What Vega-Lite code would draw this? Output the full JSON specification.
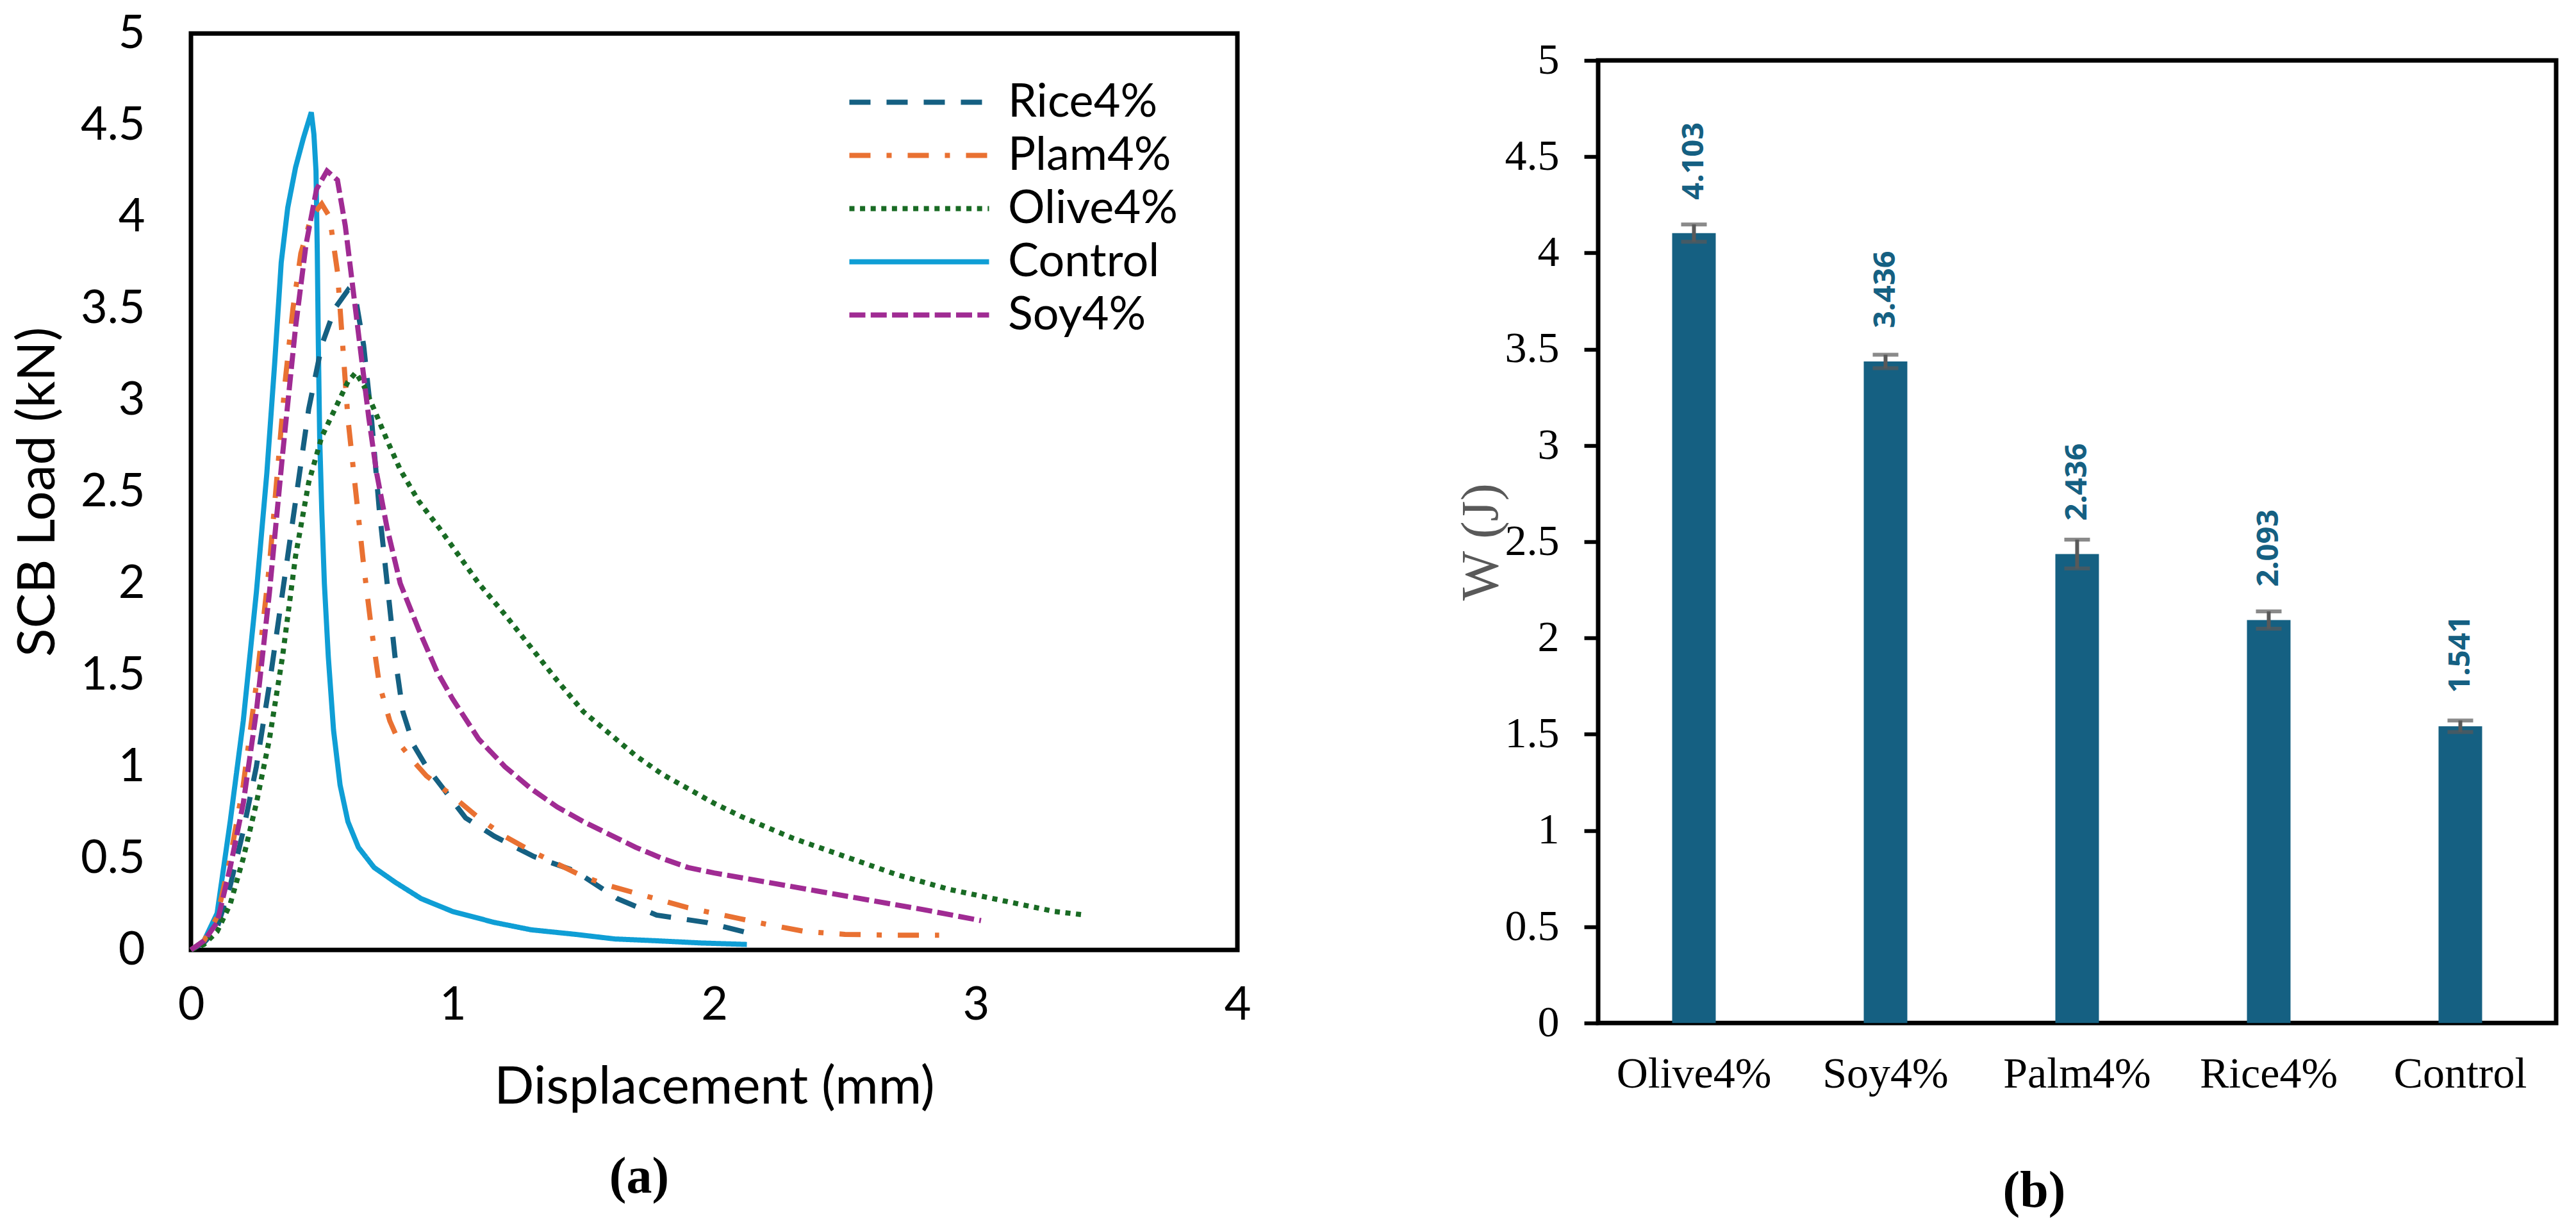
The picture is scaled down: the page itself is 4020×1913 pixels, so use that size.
{
  "$schema": "https://vega.github.io/schema/vega-lite/v6.json",
  "background": "white",
  "padding": {"left": 14, "top": 12, "right": 0, "bottom": 0},
  "spacing": 310,
  "center": {"row": true},
  "config": {
    "view": {"stroke": "black", "strokeWidth": 7},
    "axis": {"grid": false, "domain": false}
  },
  "hconcat": [
    {
      "width": 1633,
      "height": 1430,
      "title": {
        "text": "(a)",
        "subtitle": " ",
        "orient": "bottom",
        "anchor": "middle",
        "frame": "group",
        "dx": -117,
        "offset": 100,
        "font": "Liberation Serif",
        "fontSize": 80,
        "fontWeight": "bold",
        "color": "black",
        "baseline": "middle",
        "subtitleFontSize": 30,
        "subtitlePadding": 8
      },
      "data": {
        "values": [
          {"s": "Control", "d": 0, "f": 0}, {"s": "Control", "d": 0.05, "f": 0.05}, {"s": "Control", "d": 0.1, "f": 0.2},
          {"s": "Control", "d": 0.15, "f": 0.7}, {"s": "Control", "d": 0.2, "f": 1.25}, {"s": "Control", "d": 0.25, "f": 1.95},
          {"s": "Control", "d": 0.29, "f": 2.6}, {"s": "Control", "d": 0.32, "f": 3.2}, {"s": "Control", "d": 0.345, "f": 3.75},
          {"s": "Control", "d": 0.37, "f": 4.05}, {"s": "Control", "d": 0.4, "f": 4.27}, {"s": "Control", "d": 0.43, "f": 4.43},
          {"s": "Control", "d": 0.46, "f": 4.57}, {"s": "Control", "d": 0.47, "f": 4.45}, {"s": "Control", "d": 0.478, "f": 4.25},
          {"s": "Control", "d": 0.483, "f": 3.8}, {"s": "Control", "d": 0.487, "f": 3.3}, {"s": "Control", "d": 0.492, "f": 2.8},
          {"s": "Control", "d": 0.5, "f": 2.4}, {"s": "Control", "d": 0.51, "f": 2.0}, {"s": "Control", "d": 0.525, "f": 1.6},
          {"s": "Control", "d": 0.545, "f": 1.2}, {"s": "Control", "d": 0.57, "f": 0.9}, {"s": "Control", "d": 0.6, "f": 0.7},
          {"s": "Control", "d": 0.64, "f": 0.56}, {"s": "Control", "d": 0.7, "f": 0.45}, {"s": "Control", "d": 0.78, "f": 0.37},
          {"s": "Control", "d": 0.88, "f": 0.28}, {"s": "Control", "d": 1.0, "f": 0.21}, {"s": "Control", "d": 1.16, "f": 0.15},
          {"s": "Control", "d": 1.3, "f": 0.11}, {"s": "Control", "d": 1.47, "f": 0.085}, {"s": "Control", "d": 1.62, "f": 0.06},
          {"s": "Control", "d": 1.78, "f": 0.05}, {"s": "Control", "d": 1.95, "f": 0.038}, {"s": "Control", "d": 2.125, "f": 0.03},

          {"s": "Rice4%", "d": 0, "f": 0}, {"s": "Rice4%", "d": 0.05, "f": 0.04}, {"s": "Rice4%", "d": 0.1, "f": 0.12},
          {"s": "Rice4%", "d": 0.15, "f": 0.35}, {"s": "Rice4%", "d": 0.2, "f": 0.65}, {"s": "Rice4%", "d": 0.25, "f": 1.0},
          {"s": "Rice4%", "d": 0.3, "f": 1.45}, {"s": "Rice4%", "d": 0.35, "f": 1.95}, {"s": "Rice4%", "d": 0.4, "f": 2.45},
          {"s": "Rice4%", "d": 0.45, "f": 2.95}, {"s": "Rice4%", "d": 0.5, "f": 3.3}, {"s": "Rice4%", "d": 0.55, "f": 3.5},
          {"s": "Rice4%", "d": 0.6, "f": 3.6}, {"s": "Rice4%", "d": 0.63, "f": 3.55}, {"s": "Rice4%", "d": 0.66, "f": 3.3},
          {"s": "Rice4%", "d": 0.69, "f": 2.9}, {"s": "Rice4%", "d": 0.72, "f": 2.4}, {"s": "Rice4%", "d": 0.75, "f": 2.0},
          {"s": "Rice4%", "d": 0.78, "f": 1.6}, {"s": "Rice4%", "d": 0.81, "f": 1.3}, {"s": "Rice4%", "d": 0.85, "f": 1.12},
          {"s": "Rice4%", "d": 0.9, "f": 1.0}, {"s": "Rice4%", "d": 0.97, "f": 0.87}, {"s": "Rice4%", "d": 1.05, "f": 0.72},
          {"s": "Rice4%", "d": 1.16, "f": 0.62}, {"s": "Rice4%", "d": 1.31, "f": 0.51}, {"s": "Rice4%", "d": 1.47, "f": 0.43},
          {"s": "Rice4%", "d": 1.63, "f": 0.28}, {"s": "Rice4%", "d": 1.78, "f": 0.19}, {"s": "Rice4%", "d": 1.97, "f": 0.15},
          {"s": "Rice4%", "d": 2.14, "f": 0.09},

          {"s": "Plam4%", "d": 0, "f": 0}, {"s": "Plam4%", "d": 0.05, "f": 0.05}, {"s": "Plam4%", "d": 0.1, "f": 0.18},
          {"s": "Plam4%", "d": 0.15, "f": 0.5}, {"s": "Plam4%", "d": 0.2, "f": 0.9}, {"s": "Plam4%", "d": 0.25, "f": 1.45},
          {"s": "Plam4%", "d": 0.3, "f": 2.1}, {"s": "Plam4%", "d": 0.33, "f": 2.6}, {"s": "Plam4%", "d": 0.36, "f": 3.1},
          {"s": "Plam4%", "d": 0.39, "f": 3.5}, {"s": "Plam4%", "d": 0.42, "f": 3.8}, {"s": "Plam4%", "d": 0.46, "f": 4.0},
          {"s": "Plam4%", "d": 0.5, "f": 4.07}, {"s": "Plam4%", "d": 0.53, "f": 4.0}, {"s": "Plam4%", "d": 0.56, "f": 3.7},
          {"s": "Plam4%", "d": 0.58, "f": 3.3}, {"s": "Plam4%", "d": 0.6, "f": 2.9}, {"s": "Plam4%", "d": 0.63, "f": 2.5},
          {"s": "Plam4%", "d": 0.66, "f": 2.1}, {"s": "Plam4%", "d": 0.69, "f": 1.75}, {"s": "Plam4%", "d": 0.72, "f": 1.45},
          {"s": "Plam4%", "d": 0.76, "f": 1.25}, {"s": "Plam4%", "d": 0.8, "f": 1.12}, {"s": "Plam4%", "d": 0.85, "f": 1.03},
          {"s": "Plam4%", "d": 0.9, "f": 0.95}, {"s": "Plam4%", "d": 1.0, "f": 0.84}, {"s": "Plam4%", "d": 1.1, "f": 0.72},
          {"s": "Plam4%", "d": 1.2, "f": 0.62}, {"s": "Plam4%", "d": 1.3, "f": 0.54}, {"s": "Plam4%", "d": 1.4, "f": 0.47},
          {"s": "Plam4%", "d": 1.5, "f": 0.4}, {"s": "Plam4%", "d": 1.6, "f": 0.35}, {"s": "Plam4%", "d": 1.7, "f": 0.31},
          {"s": "Plam4%", "d": 1.8, "f": 0.27}, {"s": "Plam4%", "d": 1.9, "f": 0.23}, {"s": "Plam4%", "d": 2.0, "f": 0.2},
          {"s": "Plam4%", "d": 2.1, "f": 0.17}, {"s": "Plam4%", "d": 2.2, "f": 0.14}, {"s": "Plam4%", "d": 2.35, "f": 0.1},
          {"s": "Plam4%", "d": 2.5, "f": 0.085}, {"s": "Plam4%", "d": 2.7, "f": 0.08}, {"s": "Plam4%", "d": 2.86, "f": 0.08},

          {"s": "Olive4%", "d": 0, "f": 0}, {"s": "Olive4%", "d": 0.05, "f": 0.03}, {"s": "Olive4%", "d": 0.1, "f": 0.1},
          {"s": "Olive4%", "d": 0.15, "f": 0.25}, {"s": "Olive4%", "d": 0.2, "f": 0.5}, {"s": "Olive4%", "d": 0.25, "f": 0.8},
          {"s": "Olive4%", "d": 0.3, "f": 1.15}, {"s": "Olive4%", "d": 0.35, "f": 1.6}, {"s": "Olive4%", "d": 0.4, "f": 2.15},
          {"s": "Olive4%", "d": 0.45, "f": 2.55}, {"s": "Olive4%", "d": 0.5, "f": 2.8}, {"s": "Olive4%", "d": 0.55, "f": 2.95},
          {"s": "Olive4%", "d": 0.6, "f": 3.1}, {"s": "Olive4%", "d": 0.63, "f": 3.15}, {"s": "Olive4%", "d": 0.66, "f": 3.08},
          {"s": "Olive4%", "d": 0.7, "f": 2.95}, {"s": "Olive4%", "d": 0.75, "f": 2.78}, {"s": "Olive4%", "d": 0.8, "f": 2.62},
          {"s": "Olive4%", "d": 0.87, "f": 2.45}, {"s": "Olive4%", "d": 0.95, "f": 2.3}, {"s": "Olive4%", "d": 1.0, "f": 2.2},
          {"s": "Olive4%", "d": 1.1, "f": 2.0}, {"s": "Olive4%", "d": 1.2, "f": 1.83}, {"s": "Olive4%", "d": 1.3, "f": 1.65},
          {"s": "Olive4%", "d": 1.4, "f": 1.47}, {"s": "Olive4%", "d": 1.5, "f": 1.3}, {"s": "Olive4%", "d": 1.6, "f": 1.18},
          {"s": "Olive4%", "d": 1.7, "f": 1.06}, {"s": "Olive4%", "d": 1.8, "f": 0.96}, {"s": "Olive4%", "d": 1.9, "f": 0.88},
          {"s": "Olive4%", "d": 2.0, "f": 0.8}, {"s": "Olive4%", "d": 2.1, "f": 0.73}, {"s": "Olive4%", "d": 2.2, "f": 0.67},
          {"s": "Olive4%", "d": 2.3, "f": 0.61}, {"s": "Olive4%", "d": 2.4, "f": 0.56}, {"s": "Olive4%", "d": 2.5, "f": 0.51},
          {"s": "Olive4%", "d": 2.6, "f": 0.46}, {"s": "Olive4%", "d": 2.7, "f": 0.41}, {"s": "Olive4%", "d": 2.8, "f": 0.37},
          {"s": "Olive4%", "d": 2.9, "f": 0.33}, {"s": "Olive4%", "d": 3.0, "f": 0.3}, {"s": "Olive4%", "d": 3.1, "f": 0.27},
          {"s": "Olive4%", "d": 3.2, "f": 0.24}, {"s": "Olive4%", "d": 3.3, "f": 0.21}, {"s": "Olive4%", "d": 3.42, "f": 0.19},

          {"s": "Soy4%", "d": 0, "f": 0}, {"s": "Soy4%", "d": 0.05, "f": 0.05}, {"s": "Soy4%", "d": 0.1, "f": 0.15},
          {"s": "Soy4%", "d": 0.15, "f": 0.45}, {"s": "Soy4%", "d": 0.2, "f": 0.8}, {"s": "Soy4%", "d": 0.25, "f": 1.3},
          {"s": "Soy4%", "d": 0.3, "f": 1.95}, {"s": "Soy4%", "d": 0.35, "f": 2.7}, {"s": "Soy4%", "d": 0.4, "f": 3.4},
          {"s": "Soy4%", "d": 0.44, "f": 3.85}, {"s": "Soy4%", "d": 0.48, "f": 4.15}, {"s": "Soy4%", "d": 0.52, "f": 4.25},
          {"s": "Soy4%", "d": 0.56, "f": 4.2}, {"s": "Soy4%", "d": 0.59, "f": 3.95}, {"s": "Soy4%", "d": 0.62, "f": 3.6},
          {"s": "Soy4%", "d": 0.65, "f": 3.25}, {"s": "Soy4%", "d": 0.68, "f": 2.9}, {"s": "Soy4%", "d": 0.71, "f": 2.6},
          {"s": "Soy4%", "d": 0.75, "f": 2.3}, {"s": "Soy4%", "d": 0.8, "f": 2.0}, {"s": "Soy4%", "d": 0.87, "f": 1.75},
          {"s": "Soy4%", "d": 0.94, "f": 1.52}, {"s": "Soy4%", "d": 1.0, "f": 1.37}, {"s": "Soy4%", "d": 1.1, "f": 1.15},
          {"s": "Soy4%", "d": 1.2, "f": 1.0}, {"s": "Soy4%", "d": 1.3, "f": 0.88}, {"s": "Soy4%", "d": 1.4, "f": 0.78},
          {"s": "Soy4%", "d": 1.5, "f": 0.7}, {"s": "Soy4%", "d": 1.6, "f": 0.63}, {"s": "Soy4%", "d": 1.7, "f": 0.56},
          {"s": "Soy4%", "d": 1.8, "f": 0.5}, {"s": "Soy4%", "d": 1.9, "f": 0.45}, {"s": "Soy4%", "d": 2.0, "f": 0.42},
          {"s": "Soy4%", "d": 2.2, "f": 0.37}, {"s": "Soy4%", "d": 2.4, "f": 0.32}, {"s": "Soy4%", "d": 2.6, "f": 0.27},
          {"s": "Soy4%", "d": 2.8, "f": 0.22}, {"s": "Soy4%", "d": 3.02, "f": 0.16}
        ]
      },
      "mark": {"type": "line", "strokeWidth": 8},
      "encoding": {
        "x": {
          "field": "d",
          "type": "quantitative",
          "scale": {"domain": [0, 4], "nice": false},
          "axis": {
            "values": [0, 1, 2, 3, 4],
            "format": "d",
            "ticks": false,
            "labelFlush": false,
            "labelPadding": 51,
            "labelFont": "Lato",
            "labelFontSize": 72,
            "labelColor": "black",
            "title": "Displacement (mm)",
            "titleFont": "Lato",
            "titleFontSize": 82,
            "titleFontWeight": "normal",
            "titleColor": "black",
            "titlePadding": 52
          }
        },
        "y": {
          "field": "f",
          "type": "quantitative",
          "scale": {"domain": [0, 5], "nice": false},
          "axis": {
            "values": [0, 0.5, 1, 1.5, 2, 2.5, 3, 3.5, 4, 4.5, 5],
            "format": "~g",
            "ticks": false,
            "labelPadding": 72,
            "labelFont": "Lato",
            "labelFontSize": 72,
            "labelColor": "black",
            "title": "SCB Load (kN)",
            "titleFont": "Lato",
            "titleFontSize": 82,
            "titleFontWeight": "normal",
            "titleColor": "black",
            "titleX": -239,
            "titleY": 715,
            "titleBaseline": "middle"
          }
        },
        "color": {
          "field": "s",
          "type": "nominal",
          "scale": {
            "domain": ["Rice4%", "Plam4%", "Olive4%", "Control", "Soy4%"],
            "range": ["#156082", "#E97132", "#196B24", "#0F9ED5", "#A02B93"]
          },
          "legend": {
            "title": null,
            "orient": "none",
            "legendX": 1090,
            "legendY": 61,
            "padding": 0,
            "symbolType": "M-2.565,0H2.565",
            "symbolSize": 7225,
            "symbolStrokeWidth": 8,
            "labelFont": "Lato",
            "labelFontSize": 72,
            "labelColor": "black",
            "labelOffset": 92,
            "labelLimit": 800,
            "rowPadding": 0
          }
        },
        "strokeDash": {
          "field": "s",
          "type": "nominal",
          "scale": {
            "domain": ["Rice4%", "Plam4%", "Olive4%", "Control", "Soy4%"],
            "range": [[33, 25], [33, 25, 8, 25], [8, 8.6], [1, 0], [25, 8.3]]
          },
          "legend": {
            "title": null,
            "orient": "none",
            "legendX": 1090,
            "legendY": 61,
            "padding": 0,
            "symbolType": "M-2.565,0H2.565",
            "symbolSize": 7225,
            "symbolStrokeWidth": 8,
            "labelFont": "Lato",
            "labelFontSize": 72,
            "labelColor": "black",
            "labelOffset": 92,
            "labelLimit": 800,
            "rowPadding": 0
          }
        }
      }
    },
    {
      "width": 1495,
      "height": 1502,
      "data": {
        "values": [
          {"cat": "Olive4%", "W": 4.103, "err": 0.045},
          {"cat": "Soy4%", "W": 3.436, "err": 0.035},
          {"cat": "Palm4%", "W": 2.436, "err": 0.075},
          {"cat": "Rice4%", "W": 2.093, "err": 0.045},
          {"cat": "Control", "W": 1.541, "err": 0.03}
        ]
      },
      "encoding": {
        "x": {
          "field": "cat",
          "type": "nominal",
          "sort": null,
          "scale": {
            "domain": ["Olive4%", "Soy4%", "Palm4%", "Rice4%", "Control"],
            "paddingInner": 0,
            "paddingOuter": 0
          },
          "axis": {
            "ticks": false,
            "labelAngle": 0,
            "labelLimit": 500,
            "labelFont": "Liberation Serif",
            "labelFontSize": 68,
            "labelColor": "black",
            "labelPadding": 46,
            "title": "(b)",
            "titleFont": "Liberation Serif",
            "titleFontSize": 80,
            "titleFontWeight": "bold",
            "titleColor": "black",
            "titleX": 680,
            "titleY": 262,
            "titleBaseline": "middle"
          }
        },
        "y": {
          "field": "W",
          "type": "quantitative",
          "scale": {"domain": [0, 5], "nice": false},
          "axis": {
            "values": [0, 0.5, 1, 1.5, 2, 2.5, 3, 3.5, 4, 4.5, 5],
            "format": "~g",
            "tickSize": 22,
            "tickWidth": 6,
            "tickColor": "black",
            "labelPadding": 39,
            "labelFont": "Liberation Serif",
            "labelFontSize": 68,
            "labelColor": "black",
            "title": "W (J)",
            "titleFont": "Liberation Serif",
            "titleFontSize": 82,
            "titleFontWeight": "normal",
            "titleColor": "#595959",
            "titleX": -183,
            "titleY": 751,
            "titleBaseline": "middle"
          }
        }
      },
      "layer": [
        {"mark": {"type": "bar", "color": "#156082", "width": {"band": 0.2274}}},
        {
          "mark": {"type": "errorbar", "color": "#595959", "thickness": 6, "ticks": {"size": 40}},
          "encoding": {"yError": {"field": "err"}}
        },
        {
          "mark": {
            "type": "text",
            "angle": 270,
            "align": "left",
            "baseline": "middle",
            "dx": 52,
            "font": "Noto Sans",
            "fontWeight": "bold",
            "fontSize": 47,
            "color": "#156082"
          },
          "encoding": {"text": {"field": "W", "type": "quantitative", "format": ".3f"}}
        }
      ]
    }
  ]
}
